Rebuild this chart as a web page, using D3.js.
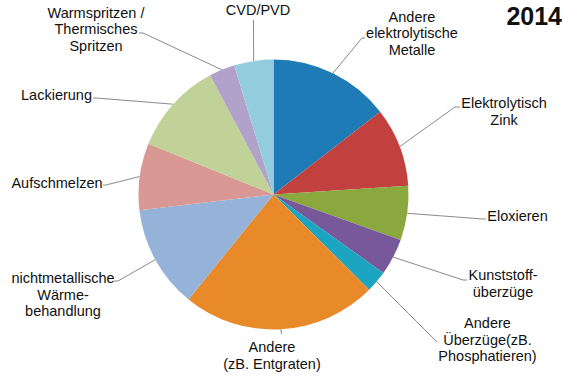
<!DOCTYPE html>
<html>
<head>
<meta charset="utf-8">
<script src="https://cdn.jsdelivr.net/npm/d3@7"></script>
<style>
  body { margin: 0; background: #fff; }
  text { font-family: "Liberation Sans", Arial, sans-serif; }
</style>
</head>
<body>
<svg id="chart" width="569" height="376"></svg>
<script>
// Chart data (share in %)
const categories = [
  'Andere elektrolytische Metalle',
  'Elektrolytisch Zink',
  'Eloxieren',
  'Kunststoffüberzüge',
  'Andere Überzüge (zB. Phosphatieren)',
  'Andere (zB. Entgraten)',
  'nichtmetallische Wärmebehandlung',
  'Aufschmelzen',
  'Lackierung',
  'Warmspritzen / Thermisches Spritzen',
  'CVD/PVD'
];
const values = [14.5, 9.5, 6.5, 4.4, 2.6, 23.4, 12.3, 8.0, 11.1, 3.1, 4.7];
const labelLines = [
  ['Andere', 'elektrolytische', 'Metalle'],
  ['Elektrolytisch', 'Zink'],
  ['Eloxieren'],
  ['Kunststoff-', 'überzüge'],
  ['Andere', 'Überzüge(zB.', 'Phosphatieren)'],
  ['Andere', '(zB. Entgraten)'],
  ['nichtmetallische', 'Wärme-', 'behandlung'],
  ['Aufschmelzen'],
  ['Lackierung'],
  ['Warmspritzen /', 'Thermisches', 'Spritzen'],
  ['CVD/PVD']
];
const title = '2014';

const colors = [
  '#1f7bb5', '#c0413d', '#8ba83f', '#77589a', '#1ba5c0', '#e8892a',
  '#95b3d9', '#da9894', '#c1d299', '#b0a2c8', '#93cddd'
];

// Label placement: text centre x, first baseline y, leader points after the arc edge
const labelLayout = [
  { x: 412, y: 21.7, leader: [[362, 38], [365, 38]] },
  { x: 504, y: 108.3, leader: [[455, 107], [460, 107]] },
  { x: 517.5, y: 220.5, leader: [[483, 219], [486, 219]] },
  { x: 503, y: 280, leader: [[463, 280], [467, 280]] },
  { x: 487.5, y: 328.3, leader: [[437, 342]] },
  { x: 272, y: 352, leader: [[281.7, 334]] },
  { x: 63, y: 283.3, leader: [[118, 281], [114, 281]] },
  { x: 57, y: 188.3, leader: [[106, 185], [103, 185]] },
  { x: 56.5, y: 100, leader: [[96, 98], [93, 98]] },
  { x: 96, y: 17.5, leader: [[143, 33], [139, 33]] },
  { x: 258, y: 15, leader: [[253.5, 20]] }
];

const CX = 273.5;
const CY = 194.5;
const RADIUS = 135;
const LINE_HEIGHT = 16.5;

const svg = d3.select('#chart');

const pie = d3.pie().sort(null).value(d => d);
const arcs = pie(values);
const arc = d3.arc().innerRadius(0).outerRadius(RADIUS);

const g = svg.append('g').attr('transform', `translate(${CX},${CY})`);

// Slices
g.selectAll('path.slice')
  .data(arcs)
  .join('path')
  .attr('class', 'slice')
  .attr('d', arc)
  .attr('fill', (d, i) => colors[i]);

// Leader lines start on the arc edge at the slice's mid angle
const line = d3.line();
svg.append('g')
  .selectAll('path.leader')
  .data(arcs)
  .join('path')
  .attr('class', 'leader')
  .attr('fill', 'none')
  .attr('stroke', '#8a8a8a')
  .attr('stroke-width', 1)
  .attr('d', (d, i) => {
    const a = (d.startAngle + d.endAngle) / 2;
    const start = [CX + RADIUS * Math.sin(a), CY - RADIUS * Math.cos(a)];
    return line([start, ...labelLayout[i].leader]);
  });

// Labels
const labels = svg.append('g')
  .attr('font-size', '14.5px')
  .attr('fill', '#111')
  .attr('text-anchor', 'middle');

labelLines.forEach((rows, i) => {
  const t = labels.append('text')
    .attr('x', labelLayout[i].x)
    .attr('y', labelLayout[i].y);
  rows.forEach((row, j) => {
    t.append('tspan')
      .attr('x', labelLayout[i].x)
      .attr('dy', j === 0 ? 0 : LINE_HEIGHT)
      .text(row);
  });
});

// Title
svg.append('text')
  .attr('x', 562)
  .attr('y', 25)
  .attr('text-anchor', 'end')
  .attr('font-size', '25px')
  .attr('font-weight', 'bold')
  .attr('fill', '#111')
  .text(title);
</script>
</body>
</html>
